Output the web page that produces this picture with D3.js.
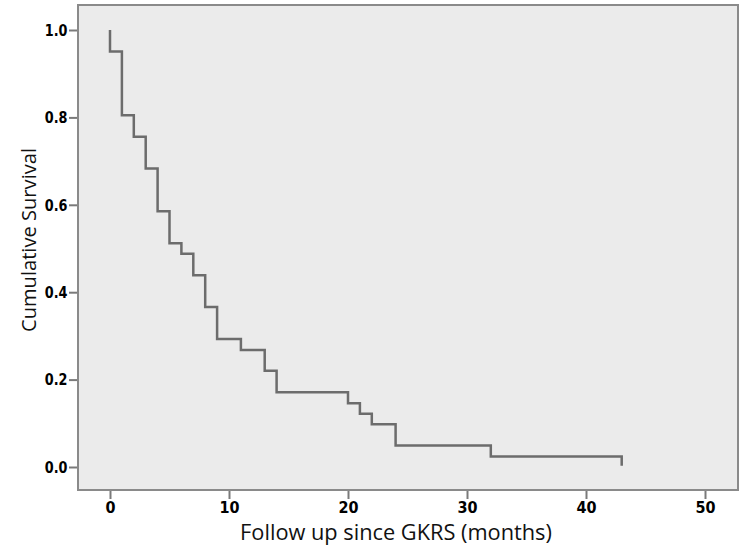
<!DOCTYPE html>
<html>
<head>
<meta charset="utf-8">
<script src="https://cdn.jsdelivr.net/npm/d3@7"></script>
<style>
  html, body { margin: 0; padding: 0; background: #ffffff; }
  svg { display: block; }
</style>
</head>
<body>
<svg id="chart" width="754" height="554"></svg>
<script>
// ---- data ----
const eventTimes = [0, 0, 1, 2, 3, 4, 5, 6, 7, 8, 9, 11, 13, 14, 20, 21, 22, 24, 32, 43, 43];
const survival   = [1.0, 0.951, 0.805, 0.756, 0.683, 0.585, 0.512, 0.488, 0.439, 0.366, 0.293, 0.268, 0.220, 0.171, 0.146, 0.122, 0.098, 0.049, 0.024, 0.024, 0.003];
const xTicks = [0, 10, 20, 30, 40, 50];
const yTicks = [0.0, 0.2, 0.4, 0.6, 0.8, 1.0];
const xTitle = "Follow up since GKRS (months)";
const yTitle = "Cumulative Survival";

const svg = d3.select("#chart");
const frame = { left: 78, right: 738, top: 5, bottom: 490 };

const x = d3.scaleLinear().domain([0, 10]).range([110, 229]);
const y = d3.scaleLinear().domain([0, 1]).range([467, 30]);

// plot panel
svg.append("rect")
  .attr("x", frame.left).attr("y", frame.top)
  .attr("width", frame.right - frame.left).attr("height", frame.bottom - frame.top)
  .attr("fill", "#ebebeb")
  .attr("stroke", "#8a8a8a").attr("stroke-width", 2);

// axes
const tickFont = "'DejaVu Sans Condensed', 'DejaVu Sans', sans-serif";
const yAxis = d3.axisLeft(y).tickValues(yTicks).tickFormat(d3.format(".1f")).tickSize(8).tickPadding(2);
const gy = svg.append("g").attr("transform", `translate(${frame.left - 1},0)`).call(yAxis);
gy.select(".domain").remove();
gy.selectAll(".tick line").attr("stroke", "#7a7a7a").attr("stroke-width", 2);
gy.selectAll(".tick text")
  .attr("fill", "#000").style("font-family", tickFont).style("font-weight", "bold").style("font-size", "15px")
  .attr("transform", "scale(0.95,1.1)");

const xAxis = d3.axisBottom(x).tickValues(xTicks).tickFormat(d3.format("d")).tickSize(8).tickPadding(3);
const gx = svg.append("g").attr("transform", `translate(0,${frame.bottom + 1})`).call(xAxis);
gx.select(".domain").remove();
gx.selectAll(".tick line").attr("stroke", "#7a7a7a").attr("stroke-width", 2);
gx.selectAll(".tick text")
  .attr("fill", "#000").style("font-family", tickFont).style("font-weight", "bold").style("font-size", "16px");

// survival step curve
const pts = eventTimes.map((t, i) => [t, survival[i]]);
const line = d3.line().x(d => x(d[0])).y(d => y(d[1])).curve(d3.curveStepAfter);
svg.append("path")
  .datum(pts)
  .attr("d", line)
  .attr("fill", "none")
  .attr("stroke", "#6c6c6c")
  .attr("stroke-width", 2.5);

// titles (font size fitted to the reference text widths)
const titleFont = "'Open Sans', 'DejaVu Sans', sans-serif";
function fitText(sel, target) {
  const w = sel.node().getComputedTextLength();
  const fs = parseFloat(sel.style("font-size"));
  if (w > 0) sel.style("font-size", (fs * target / w).toFixed(2) + "px");
}
const xt = svg.append("text")
  .attr("x", 396).attr("y", 540)
  .attr("text-anchor", "middle")
  .style("font-family", titleFont).style("font-size", "20px").attr("fill", "#111")
  .text(xTitle);
fitText(xt, 312);
const yt = svg.append("text")
  .attr("transform", "translate(36,240) rotate(-90)")
  .attr("text-anchor", "middle")
  .style("font-family", titleFont).style("font-size", "20px").attr("fill", "#111")
  .text(yTitle);
fitText(yt, 184);
</script>
</body>
</html>
